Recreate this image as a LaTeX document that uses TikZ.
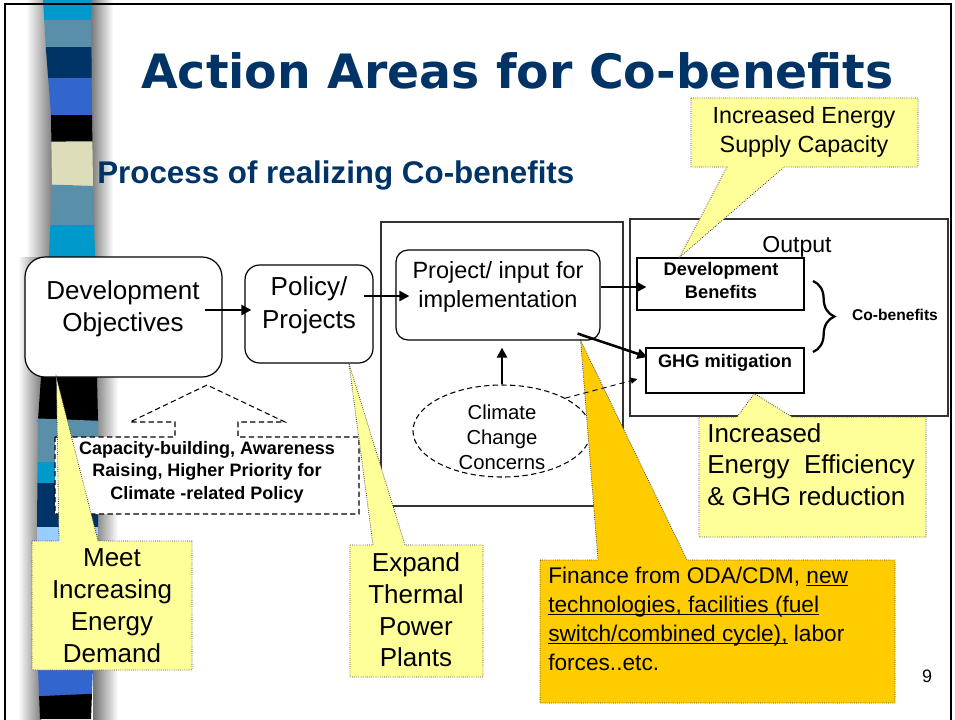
\documentclass[tikz,border=0pt]{standalone}
\usepackage{fontspec}
\setmainfont{Liberation Sans}
\newfontfamily\titlefont{DejaVu Sans}
\usetikzlibrary{calc,fit,shapes.geometric,arrows.meta,decorations.pathreplacing}
\definecolor{navy}{HTML}{003366}
\definecolor{cyanb}{HTML}{0099CC}
\definecolor{steelb}{HTML}{5A8FA9}
\definecolor{royalb}{HTML}{3366CC}
\definecolor{beigeb}{HTML}{DDDDB9}
\definecolor{lightb}{HTML}{99CCFF}
\definecolor{cally}{HTML}{FFFF99}
\definecolor{callo}{HTML}{FFCC00}
\newcommand\myul[1]{\underline{\smash{#1}}}
\begin{document}
\begin{tikzpicture}[x=0.75pt,y=-0.75pt,
  box/.style={draw=black,line width=0.9pt,fill=white,inner sep=0pt},
  frame/.style={draw=black!80,line width=0.9pt,fill=white,inner sep=0pt},
  callout/.style={draw=black!75,densely dotted,line width=0.6pt},
  arr/.style={line width=1.9pt,-{Triangle[length=7.5pt,width=7.5pt]}},
  dasharr/.style={line width=0.7pt,dash pattern=on 4pt off 3pt,-{Triangle[length=5pt,width=4.5pt]}},
  dashline/.style={line width=0.8pt,dash pattern=on 4pt off 2.5pt},
  txt/.style={inner sep=0pt,align=center},
  txtl/.style={inner sep=0pt,align=left},
]
\useasboundingbox (0,0) rectangle (955,719);
\clip (0,0) rectangle (955,719);
\fill[white] (0,0) rectangle (955,719);

% ---------- decorative strip ----------
\shade[left color=white,right color=black!50] (26,0) rectangle (52,257);
\shade[left color=black!55,right color=white] (90,0) rectangle (113,257);
\shade[left color=white,right color=black!50] (18,257) rectangle (41,719);
\shade[left color=black!55,right color=white] (93,257) rectangle (118,719);
\begin{scope}
\clip (43,0) -- (46,50) -- (51,115) -- (52,185) -- (49,257) -- (41,377) -- (38,420)
  -- (37,527) -- (38,667) -- (40,719) -- (91,719) -- (93,667) -- (98,527) -- (98,420)
  -- (97,377) -- (95,257) -- (93,185) -- (92,115) -- (91,0) -- cycle;
\fill[cyanb] (0,0) rectangle (130,20);
\fill[steelb] (0,20) rectangle (130,47);
\fill[navy] (0,47) rectangle (130,78);
\fill[royalb] (0,78) rectangle (130,115);
\fill[black] (0,115) rectangle (130,142);
\fill[beigeb] (0,142) -- (130,141) -- (130,187) -- (0,183) -- cycle;
\fill[steelb] (0,183) -- (130,187) -- (130,225) -- (0,225) -- cycle;
\fill[cyanb] (0,225) rectangle (130,300);
\fill[black] (0,300) rectangle (130,422);
\fill[steelb] (0,417) -- (130,422) -- (130,462) -- (0,462) -- cycle;
\fill[cyanb] (0,462) rectangle (130,483);
\fill[navy] (0,483) rectangle (130,527);
\fill[lightb] (0,527) rectangle (130,560);
\fill[royalb] (0,560) rectangle (130,698);
\fill[black] (0,698) -- (130,692) -- (130,719) -- (0,719) -- cycle;
\end{scope}

% ---------- slide border ----------
\draw[line width=1.6pt] (5,760) -- (5,4) -- (951,4) -- (951,760);

% ---------- titles ----------
\node[anchor=base,inner sep=0pt,text=navy,font=\titlefont\bfseries\fontsize{35.5}{40}\selectfont]
  (title) at (517.5,88) {Action Areas for Co-benefits};
\node[anchor=base west,inner sep=0pt,text=navy,font=\bfseries\fontsize{23.5}{28}\selectfont]
  (sub) at (97,183) {Process of realizing Co-benefits};

% ---------- frames ----------
\node[frame,fit={(381,222)(623,506)}] (mid) {};
\node[frame,fit={(630,219)(948,416)}] (out) {};
\node[anchor=base,inner sep=0pt,font=\fontsize{17.3}{20}\selectfont] (outtext) at (797,252) {Output};

% ---------- boxes ----------
\node[box,rounded corners=15pt,fit={(25,257)(222,377)}] (dev) {};
\node[txt,font=\fontsize{19.5}{24}\selectfont] (devtext) at (123,309) {Development\\Objectives};

\node[box,rounded corners=11pt,fit={(245,265)(373,363)}] (pol) {};
\node[txt,font=\fontsize{19.5}{24.75}\selectfont] (poltext) at (309,305) {Policy/\\Projects};

\node[box,rounded corners=9pt,fit={(396,250)(600,340)}] (proj) {};
\node[txt,font=\fontsize{17.6}{21.75}\selectfont] (projtext) at (498,286.5) {Project/ input for\\implementation};

\node[ellipse,draw=black,fill=white,dashline,minimum width=133.5pt,minimum height=69pt,inner sep=0pt] (cc) at (502,431) {};
\node[txt,font=\fontsize{15.2}{18.75}\selectfont] (cctext) at (502,437.5) {Climate\\Change\\Concerns};

\node[box,fit={(637,258)(804,310)}] (devben) {};
\node[txt,font=\bfseries\fontsize{13.7}{17.25}\selectfont] (devbentext) at (721,280) {Development\\Benefits};

\node[box,fit={(646,348)(804,393)}] (ghg) {};
\node[anchor=base,inner sep=0pt,font=\bfseries\fontsize{13.7}{16}\selectfont] (ghgtext) at (725,367) {GHG mitigation};

\node[anchor=base,inner sep=0pt,font=\bfseries\fontsize{11.7}{14}\selectfont] (cob) at (895,320) {Co-benefits};

% ---------- connectors ----------
\draw[arr] ($(dev.east)+(-18,-7)$) -- ($(pol.west)+(7,-4)$);
\draw[arr] ($(pol.east)+(-10,-18)$) -- ($(proj.west)+(14,1)$);
\draw[arr] ($(proj.east)+(0,-8)$) -- ($(devben.west)+(10,3)$);
\draw[arr] ($(proj.south east)+(-23,-7)$) -- ($(ghg.west)+(2,-13.5)$);
\draw[arr] (cc.north) -- ($(cc.north |- proj.south)+(0,7)$);
\draw[line width=1.7pt,decorate,decoration={brace,amplitude=16pt}] (813,281) -- (813,352);

% ---------- capacity shape ----------
\draw[dashline,fill=white] (55,437) -- (175,437) -- (175,422) -- (130,422) -- (207,385)
  -- (285,422) -- (238,422) -- (238,437) -- (359,437) -- (359,514) -- (55,514) -- cycle;
\node[txt,font=\bfseries\fontsize{13.5}{17}\selectfont] (cap) at (207,472)
  {Capacity-building, Awareness\\Raising, Higher Priority for\\Climate -related Policy};

% ---------- callouts ----------
\draw[callout,fill=cally] (32,541) -- (59,541) -- ($(dev.south west)+(32,0)$) -- (98,541)
  -- (192,541) -- (192,670) -- (32,670) -- cycle;
\node[txt,font=\fontsize{19.5}{24}\selectfont] (meet) at (112,606) {Meet\\Increasing\\Energy\\Demand};

\draw[callout,fill=cally] (350,545) -- (373,545) -- ($(pol.south)+(40,0)$) -- (405,545)
  -- (483,545) -- (483,677) -- (350,677) -- cycle;
\node[txt,font=\fontsize{19.5}{23.75}\selectfont] (expand) at (416,610) {Expand\\Thermal\\Power\\Plants};

\draw[callout,fill=cally] (691,98) -- (918,98) -- (918,167) -- (784,167)
  -- ($(devben.north west)+(43,0)$) -- (727,167) -- (691,167) -- cycle;
\node[txt,font=\fontsize{17.5}{21.75}\selectfont] (supply) at (804,132) {Increased Energy\\Supply Capacity};

\draw[callout,fill=cally] (699,417) -- (737,417) -- ($(ghg.south west)+(109,0)$) -- (792,417)
  -- (926,417) -- (926,537) -- (699,537) -- cycle;
\node[txtl,anchor=west,font=\fontsize{19.5}{23.6}\selectfont] (eff) at (707,464.5)
  {Increased\\Energy\ \ Efficiency\\\&\ GHG reduction};

\draw[callout,fill=callo] (540,560) -- (598,560) -- ($(proj.south east)+(-20,0)$) -- (687,560)
  -- (895,560) -- (895,703) -- (540,703) -- cycle;
\node[txtl,anchor=west,font=\fontsize{17}{21.75}\selectfont] (fin) at (548,618.6)
  {Finance from ODA/CDM, \myul{new}\\\myul{technologies, facilities (fuel}\\\myul{switch/combined cycle),} labor\\forces..etc.};

\draw[dasharr] (cc.north east) -- ($(ghg.west)+(-8,8.5)$);

\node[anchor=base,inner sep=0pt,font=\fontsize{13.5}{16}\selectfont] (pnum) at (927,682) {9};
\end{tikzpicture}
\end{document}
